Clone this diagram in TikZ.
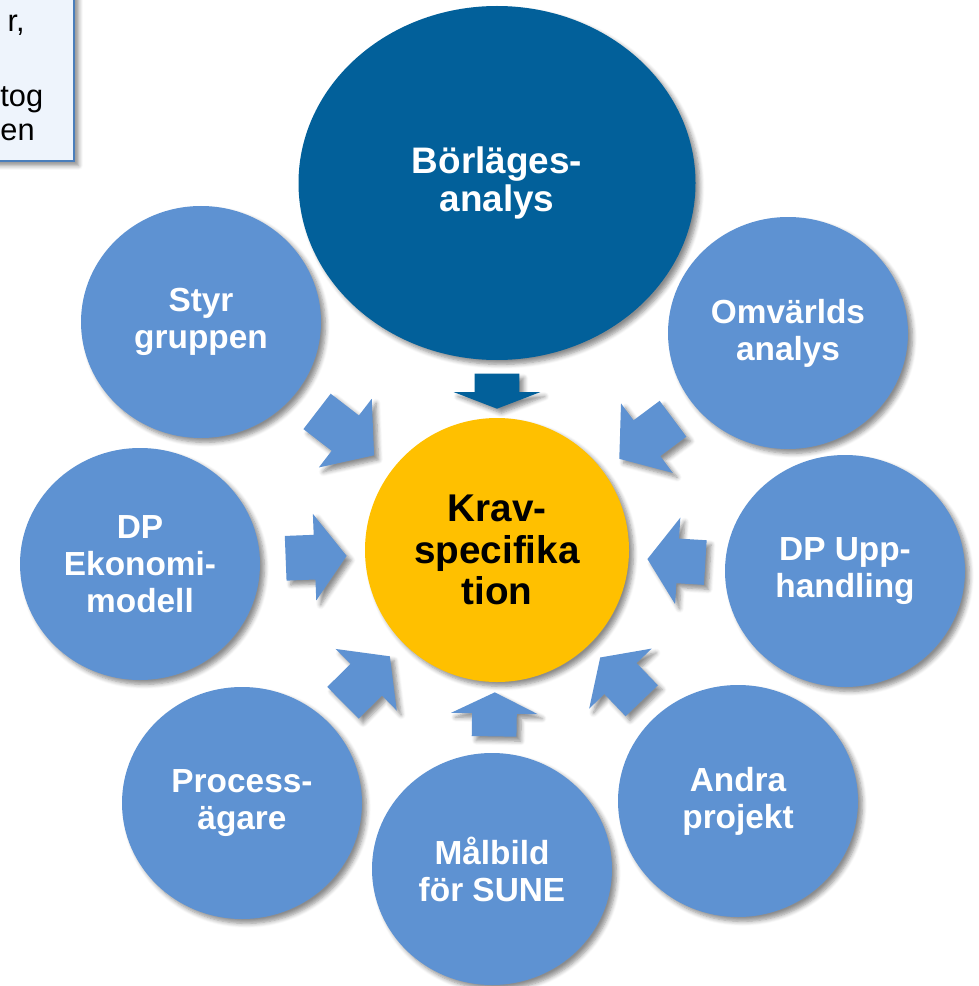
\documentclass[tikz,border=0pt]{standalone}
\usepackage{fontspec}
\setmainfont{Liberation Sans}
\usetikzlibrary{shapes.geometric, shapes.arrows, shadows.blur}
\definecolor{lightblue}{HTML}{5E92D2}
\definecolor{darkblue}{HTML}{02609A}
\definecolor{kravyellow}{HTML}{FFC000}
\definecolor{notefill}{HTML}{EEF4FC}
\definecolor{noteline}{HTML}{4A7EBB}
\tikzset{
	softshadow/.style={blur shadow={shadow xshift=2.5pt, shadow yshift=-2.5pt, shadow blur radius=2.5pt, shadow blur steps=6, shadow opacity=45}},
	bubble/.style={ellipse, fill=lightblue, text=white, align=center, inner sep=0pt, minimum width=4.8cm, minimum height=4.64cm, font=\fontsize{19}{21}\selectfont\bfseries, softshadow},
	fatarrow/.style={single arrow, fill=lightblue, inner xsep=0pt, inner ysep=0.44cm, single arrow head extend=0.42cm, sloped, allow upside down, anchor=tip, softshadow},
	notetext/.style={anchor=base east, inner sep=0pt, font=\fontsize{17.5}{20}\selectfont}
}
\begin{document}
\begin{tikzpicture}
	\useasboundingbox (0,0) rectangle (19.58,-19.72);
	
	% note box, cut at the page edge
	\node[draw=noteline, fill=notefill, line width=1pt, softshadow, minimum width=1.8cm, minimum height=3.54cm, anchor=south east] (note) at (1.5,-3.24) {};
	\node[notetext] (noteA) at (0.5,-0.64) {r,};
	\node[notetext] (noteB) at (0.87,-2.14) {tog};
	\node[notetext] (noteC) at (0.7,-2.82) {en};
	
	\node[ellipse, fill=darkblue, text=white, align=center, inner sep=0pt, minimum width=7.94cm, minimum height=7.08cm, font=\fontsize{21}{21.5}\selectfont\bfseries, softshadow] (borlage) at (9.94,-3.66) {Börläges-\\analys};
	\node[circle, fill=kravyellow, align=center, inner sep=0pt, minimum size=5.28cm, font=\fontsize{22}{23.5}\selectfont\bfseries, softshadow] (krav) at (9.94,-11.0) {Krav-\\specifika\\tion};
	
	\node[bubble] (styr) at (4.02,-6.44) {Styr\\gruppen};
	\node[bubble] (omvarld) at (15.76,-6.66) {Omvärlds\\analys};
	\node[bubble] (ekonomi) at (2.80,-11.28) {DP\\Ekonomi-\\modell};
	\node[bubble] (upphandling) at (16.90,-11.42) {DP Upp-\\handling};
	\node[bubble] (process) at (4.84,-16.06) {Process-\\ägare};
	\node[bubble] (malbild) at (9.84,-17.38) {Målbild\\för SUNE};
	\node[bubble] (andra) at (14.76,-16.02) {Andra\\projekt};
	
	% block arrows towards the requirement spec
	\path (borlage.center)     -- (krav.center) node[fatarrow, fill=darkblue, pos=0.616, minimum height=0.7cm, single arrow tip angle=138] (toBorlage) {};
	\path (styr.center)        -- (krav.center) node[fatarrow, pos=0.586, minimum height=1.44cm, single arrow tip angle=100] (toStyr) {};
	\path (omvarld.center)     -- (krav.center) node[fatarrow, pos=0.581, minimum height=1.34cm, single arrow tip angle=103] (toOmvarld) {};
	\path (ekonomi.center)     -- (krav.center) node[fatarrow, pos=0.580, minimum height=1.22cm, single arrow tip angle=107] (toEkonomi) {};
	\path (upphandling.center) -- (krav.center) node[fatarrow, pos=0.569, minimum height=1.16cm, single arrow tip angle=110] (toUpphandling) {};
	\path (process.center)     -- (krav.center) node[fatarrow, pos=0.581, minimum height=1.32cm, single arrow tip angle=105] (toProcess) {};
	\path (malbild.center)     -- (krav.center) node[fatarrow, pos=0.555, minimum height=0.88cm, single arrow tip angle=128] (toMalbild) {};
	\path (andra.center)       -- (krav.center) node[fatarrow, pos=0.573, minimum height=1.2cm, single arrow tip angle=112] (toAndra) {};
\end{tikzpicture}
\end{document}
